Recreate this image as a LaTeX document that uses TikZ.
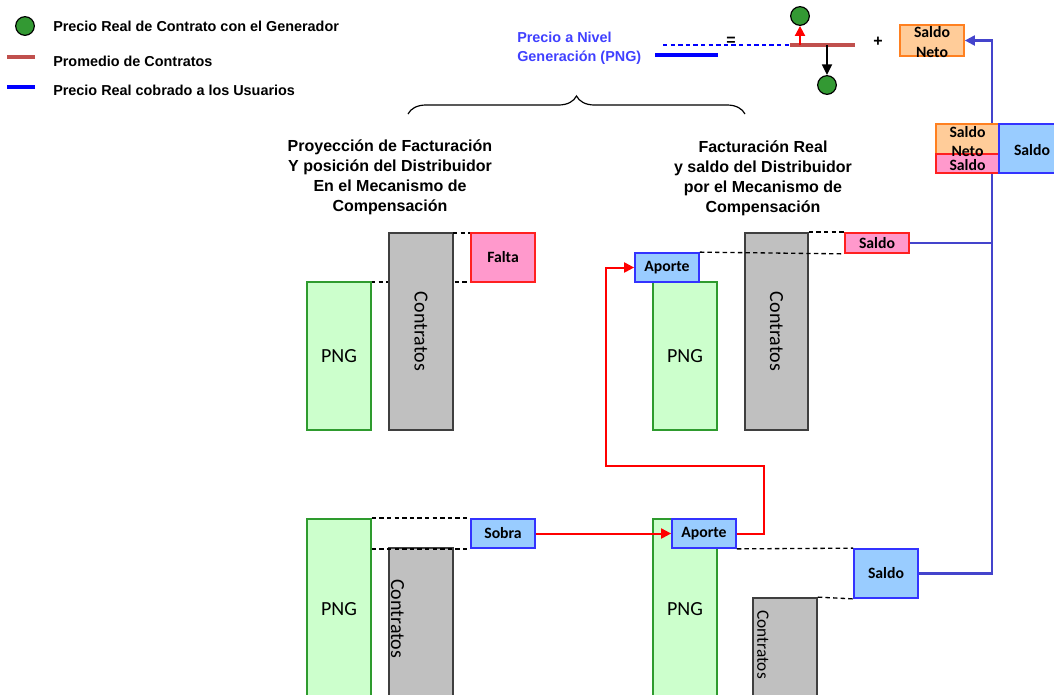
\documentclass[tikz,border=0pt]{standalone}
\usepackage{fontspec}
\setmainfont{Liberation Sans}
\newfontfamily\calib{Carlito}
\usetikzlibrary{arrows.meta,decorations.pathreplacing,fit}

\definecolor{pngfill}{HTML}{CCFFCC}
\definecolor{pngline}{HTML}{2E9B2E}
\definecolor{confill}{HTML}{C0C0C0}
\definecolor{conline}{HTML}{3F3F3F}
\definecolor{pinkfill}{HTML}{FF99CC}
\definecolor{pinkline}{HTML}{FF2020}
\definecolor{bluefill}{HTML}{99CCFF}
\definecolor{blueline}{HTML}{3333FF}
\definecolor{orangefill}{HTML}{FFCC99}
\definecolor{orangeline}{HTML}{FF8020}
\definecolor{linkblue}{HTML}{4444CC}
\definecolor{avgred}{HTML}{C0504D}
\definecolor{dotgreen}{HTML}{339933}
\definecolor{pngtext}{HTML}{4040FF}

\begin{document}
\begin{tikzpicture}[x=0.75pt,y=-0.75pt,
  box/.style={draw, line width=1.3pt, inner sep=0pt},
  pngbox/.style={box, fill=pngfill, draw=pngline},
  conbox/.style={box, fill=confill, draw=conline},
  pinkbox/.style={box, fill=pinkfill, draw=pinkline},
  bluebox/.style={box, fill=bluefill, draw=blueline},
  orangebox/.style={box, fill=orangefill, draw=orangeline},
  freelabel/.style={inner sep=0pt, font=\calib\bfseries\fontsize{11.8}{14}\selectfont},
  pnglabel/.style={inner sep=0pt, font=\calib\fontsize{15}{18}\selectfont},
  contlabel/.style={inner sep=0pt, rotate=-90, font=\calib\fontsize{15}{18}\selectfont},
  guide/.style={dash pattern=on 3.3pt off 2.4pt, line width=1pt},
  redlink/.style={draw=red, line width=1.5pt, -{Triangle[length=7.5pt,width=7.5pt]}},
  bluelink/.style={draw=linkblue, line width=1.6pt},
  dot/.style={circle, draw, fill=dotgreen, line width=0.9pt, minimum size=14pt, inner sep=0pt},
  legendtext/.style={anchor=west, inner sep=0pt, font=\bfseries\fontsize{10.8}{12}\selectfont},
  title/.style={align=center, font=\bfseries\fontsize{12}{15}\selectfont}]
\clip (0,0) rectangle (1054,694);

% ---------- legend ----------
\node[dot] (legDot) at (25,26) {};
\node[legendtext] (legT1) at (53,26) {Precio Real de Contrato con el Generador};
\coordinate (legRedA) at (7,57);
\coordinate (legRedB) at (35,57);
\draw[avgred, line width=2.6pt] (legRedA) -- (legRedB);
\node[legendtext] (legT2) at (53,61) {Promedio de Contratos};
\coordinate (legBlueA) at (7,87);
\coordinate (legBlueB) at (35,87);
\draw[blue, line width=2.6pt] (legBlueA) -- (legBlueB);
\node[legendtext] (legT3) at (53,90) {Precio Real cobrado a los Usuarios};

% ---------- PNG formula ----------
\node[anchor=west, align=left, inner sep=0pt, text=pngtext,
      font=\bfseries\fontsize{10.8}{14.3}\selectfont] (pngName) at (517,48)
      {Precio a Nivel\\Generación (PNG)};
\coordinate (pngLineA) at (655,55);
\coordinate (pngLineB) at (718,55);
\draw[blue, line width=2.6pt] (pngLineA) -- (pngLineB);
\coordinate (dashA) at (663,45);
\coordinate (dashB) at (790,45);
\draw[blue, guide] (dashA) -- (dashB);
\node[inner sep=0pt, font=\bfseries\fontsize{12}{12}\selectfont] (eqSign) at (731,41) {=};
\coordinate (avgA) at (790,45);
\coordinate (avgB) at (855,45);
\draw[avgred, line width=2.6pt] (avgA) -- (avgB);
\node[dot] (dotTop) at (800,16) {};
\node[dot] (dotBot) at (827,85) {};
\coordinate (upStart) at (800,45);
\coordinate (downStart) at (827,45);
\draw[redlink] (upStart) -- (dotTop.south);
\draw[line width=1.3pt, -{Triangle[length=8pt,width=7.5pt]}] (downStart) -- (dotBot.north);
\node[inner sep=0pt, font=\bfseries\fontsize{12}{12}\selectfont] (plusSign) at (878,42) {+};
\node[orangebox, fit={(900,25) (964,56)}] (netoTop) {};
\node[freelabel] at (932,32) {Saldo};
\node[freelabel] at (932,52) {Neto};

% ---------- brace and titles ----------
\coordinate (braceA) at (408,114);
\coordinate (braceB) at (745,114);
\draw[line width=0.9pt, decorate, decoration={brace, amplitude=13.5pt}] (braceA) -- (braceB);
\node[title] (titleL) at (390,177) {Proyección de Facturación\\Y posición del Distribuidor\\En el Mecanismo de\\Compensación};
\node[title] (titleR) at (763,178) {Facturación Real\\y saldo del Distribuidor\\por el Mecanismo de\\Compensación};

% ---------- top left panel ----------
\coordinate (tlD1a) at (453,233);
\coordinate (tlD1b) at (471,233);
\coordinate (tlD2a) at (371,282);
\coordinate (tlD2b) at (471,282);
\draw[guide] (tlD2a) -- (tlD2b);
\node[pngbox, fit={(307,282) (371,430)}] (pngTL) {};
\node[pnglabel] at (pngTL) {PNG};
\node[conbox, fit={(389,233) (453,430)}] (conTL) {};
\node[contlabel] at (conTL) {Contratos};
\draw[guide] (tlD1a) -- (tlD1b);
\node[pinkbox, fit={(471,233) (535,282)}] (falta) {};
\node[freelabel] at (falta) {Falta};

% ---------- top right panel ----------
\node[pngbox, fit={(653,282) (717,430)}] (pngTR) {};
\node[pnglabel] at (pngTR) {PNG};
\node[conbox, fit={(745,233) (808,430)}] (conTR) {};
\node[contlabel] at (conTR) {Contratos};
\node[bluebox, fit={(635,253) (699,282)}] (aporteA) {};
\node[freelabel] at (aporteA) {Aporte};
\node[pinkbox, fit={(845,233) (909,253)}] (saldoA) {};
\node[freelabel] at (saldoA) {Saldo};
\draw[guide] (conTR.north east) -- (saldoA.north west);
\draw[guide] (aporteA.north east) -- (saldoA.south west);

% ---------- bottom left panel ----------
\node[pngbox, fit={(307,519) (371,720)}] (pngBL) {};
\node[pnglabel] at (339,609) {PNG};
\node[conbox, fit={(389,548) (453,720)}] (conBL) {};
\node[contlabel, anchor=west] at (397.5,579) {Contratos};
\node[bluebox, fit={(471,519) (535,548)}] (sobra) {};
\node[freelabel] at (sobra) {Sobra};
\draw[guide] (pngBL.north east) -- (sobra.north west);
\draw[guide] (pngBL.east |- sobra.south) -- (sobra.south west);

% ---------- bottom right panel ----------
\node[pngbox, fit={(653,519) (717,720)}] (pngBR) {};
\node[pnglabel] at (685,609) {PNG};
\node[conbox, fit={(753,598) (817,720)}] (conBR) {};
\node[contlabel, anchor=west, font=\calib\fontsize{13}{16}\selectfont] at (763,610) {Contratos};
\node[bluebox, fit={(672,519) (736,548)}] (aporteB) {};
\node[freelabel] at (aporteB) {Aporte};
\node[bluebox, fit={(854,549) (918,598)}] (saldoB) {};
\node[freelabel] at (saldoB) {Saldo};
\draw[guide] (aporteB.south east) -- (saldoB.north west);
\draw[guide] (conBR.north east) -- (saldoB.south west);

% ---------- transfers of the surplus ----------
\draw[redlink] (sobra.east) -- (aporteB.west);
\coordinate (redTurnA) at (764,466);
\coordinate (redTurnB) at (606,466);
\draw[redlink] (aporteB.east) -| (redTurnA) -- (redTurnB) |- (aporteA.west);

% ---------- balances to the net balance ----------
\coordinate (blueJoin) at (992,243);
\draw[bluelink] (saldoA.east) -- (blueJoin);
\draw[bluelink, -{Triangle[length=7.5pt,width=7.5pt]}] (saldoB.east) -| (blueJoin) |- (netoTop.east);

% ---------- net balance build-up ----------
\node[orangebox, fit={(936,124) (999,154)}] (netoMid) {};
\node[pinkbox, fit={(936,154) (999,173)}] (saldoMidPink) {};
\node[bluebox, fit={(999,124) (1062,173)}] (saldoMidBlue) {};
\node[freelabel] at (967.5,132) {Saldo};
\node[freelabel] at (967.5,151) {Neto};
\node[freelabel] at (967.5,165) {Saldo};
\node[freelabel] at (1032,150) {Saldo};
\end{tikzpicture}
\end{document}
